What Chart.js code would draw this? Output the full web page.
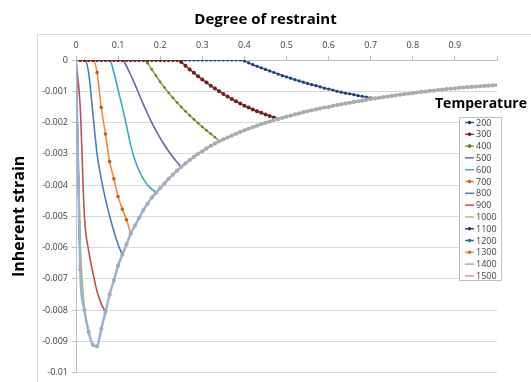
<!DOCTYPE html>
<html>
<head>
<meta charset="utf-8">
<script src="https://cdn.jsdelivr.net/npm/chart.js@4.4.1/dist/chart.umd.min.js"></script>
<style>
  html, body { margin: 0; padding: 0; background: #fff; }
  #wrap { position: relative; width: 531px; height: 382px; }
</style>
</head>
<body>
<div id="wrap"><canvas id="chart"></canvas></div>
<script>
// degree of restraint (x), one value per 0.01
const restraint = [
  0.00, 0.01, 0.02, 0.03, 0.04, 0.05, 0.06, 0.07, 0.08, 0.09,
  0.10, 0.11, 0.12, 0.13, 0.14, 0.15, 0.16, 0.17, 0.18, 0.19,
  0.20, 0.21, 0.22, 0.23, 0.24, 0.25, 0.26, 0.27, 0.28, 0.29,
  0.30, 0.31, 0.32, 0.33, 0.34, 0.35, 0.36, 0.37, 0.38, 0.39,
  0.40, 0.41, 0.42, 0.43, 0.44, 0.45, 0.46, 0.47, 0.48, 0.49,
  0.50, 0.51, 0.52, 0.53, 0.54, 0.55, 0.56, 0.57, 0.58, 0.59,
  0.60, 0.61, 0.62, 0.63, 0.64, 0.65, 0.66, 0.67, 0.68, 0.69,
  0.70, 0.71, 0.72, 0.73, 0.74, 0.75, 0.76, 0.77, 0.78, 0.79,
  0.80, 0.81, 0.82, 0.83, 0.84, 0.85, 0.86, 0.87, 0.88, 0.89,
  0.90, 0.91, 0.92, 0.93, 0.94, 0.95, 0.96, 0.97, 0.98, 0.99,
  1.00
]

const temperatures = ['200', '300', '400', '500', '600', '700', '800', '900', '1000', '1100', '1200', '1300', '1400', '1500']

// inherent strain per temperature (index = restraint index)
const s200 = [
  0, 0, 0, 0, 0, 0, 0, 0, 0, 0,
  0, 0, 0, 0, 0, 0, 0, 0, 0, 0,
  0, 0, 0, 0, 0, 0, 0, 0, 0, 0,
  0, 0, 0, 0, 0, 0, 0, 0, 0, 0,
  -0.00003, -0.00009, -0.00015, -0.0002, -0.00025, -0.0003, -0.00035, -0.0004, -0.00045, -0.0005,
  -0.00054, -0.00058, -0.00063, -0.00067, -0.00071, -0.00075, -0.00079, -0.00082, -0.00086, -0.0009,
  -0.00093, -0.00096, -0.001, -0.00103, -0.00106, -0.00108, -0.00111, -0.00114, -0.00116, -0.00119,
  -0.00121, -0.00123
]
const s300 = [
  0, 0, 0, 0, 0, 0, 0, 0, 0, 0,
  0, 0, 0, 0, 0, 0, 0, 0, 0, 0,
  0, 0, 0, 0, 0, -0.00006, -0.00018, -0.0003, -0.00041, -0.00052,
  -0.00062, -0.00072, -0.00082, -0.00091, -0.001, -0.00109, -0.00117, -0.00125, -0.00132, -0.00139,
  -0.00146, -0.00152, -0.00158, -0.00164, -0.00169, -0.00174, -0.00179, -0.00184, -0.00188
]
const s400 = [
  0, 0, 0, 0, 0, 0, 0, 0, 0, 0,
  0, 0, 0, 0, 0, 0, 0, -0.0001, -0.0003, -0.0005,
  -0.0007, -0.00088, -0.00105, -0.00121, -0.00136, -0.0015, -0.00164, -0.00177, -0.0019, -0.00202,
  -0.00214, -0.00225, -0.00236, -0.00247, -0.0026
]
const s500 = [
  0, 0, 0, 0, 0, 0, 0, 0, 0, 0,
  0, 0, -0.0002, -0.00048, -0.00078, -0.0011, -0.00142, -0.00172, -0.002, -0.00226,
  -0.0025, -0.00272, -0.00292, -0.0031, -0.00327, -0.00342
]
const s600 = [
  0, 0, 0, 0, 0, 0, 0, 0, 0, -0.0004,
  -0.00096, -0.0015, -0.0021, -0.00273, -0.0032, -0.00355, -0.0038, -0.004, -0.00413, -0.00425
]
const s700 = [
  0, 0, 0, 0, 0, -0.0004, -0.00152, -0.00237, -0.00325, -0.0038,
  -0.00437, -0.00477, -0.00511, -0.00556
]
const s800 = [
  0, 0, 0, -0.0004, -0.0017, -0.003, -0.0038, -0.00445, -0.005, -0.00548,
  -0.0059, -0.00623
]
const s900 = [0, -0.0015, -0.005, -0.0061, -0.0068, -0.0074, -0.0078, -0.00806]
const s1000 = [0, -0.0058, -0.0079, -0.0087]
const s1100 = [0, -0.0066]
const s1200 = [0, -0.0067]
const s1300 = [0, -0.0067]
// 1400 runs along the whole lower envelope
const s1400 = [
  0, -0.0067, -0.008, -0.0087, -0.00911, -0.00916, -0.0086, -0.00806, -0.0075, -0.00705,
  -0.00658, -0.00623, -0.0059, -0.00556, -0.0053, -0.00505, -0.0048, -0.0046, -0.0044, -0.00425,
  -0.0041, -0.00395, -0.0038, -0.00367, -0.00354, -0.00342, -0.00331, -0.0032, -0.0031, -0.003,
  -0.00292, -0.00283, -0.00275, -0.00267, -0.0026, -0.00254, -0.00248, -0.00242, -0.00236, -0.0023,
  -0.00225, -0.0022, -0.00215, -0.0021, -0.00205, -0.00201, -0.00197, -0.00192, -0.00188, -0.00185,
  -0.00181, -0.00178, -0.00174, -0.00171, -0.00167, -0.00164, -0.00161, -0.00158, -0.00155, -0.00152,
  -0.0015, -0.00147, -0.00144, -0.00142, -0.00139, -0.00137, -0.00134, -0.00132, -0.0013, -0.00127,
  -0.00125, -0.00123, -0.00121, -0.00119, -0.00117, -0.00115, -0.00113, -0.00111, -0.00109, -0.00108,
  -0.00106, -0.00104, -0.00102, -0.00101, -0.00099, -0.00098, -0.00096, -0.00095, -0.00093, -0.00092,
  -0.00091, -0.00089, -0.00088, -0.00087, -0.00086, -0.00085, -0.00084, -0.00083, -0.00082, -0.00081,
  -0.0008
]
const s1500 = [0, -0.0067]

const seriesValues = [s200, s300, s400, s500, s600, s700, s800, s900, s1000, s1100, s1200, s1300, s1400, s1500]

const lineColors = ['#3F6DAA', '#A8403C', '#8AAE47', '#7560A0', '#3BA7C0', '#F38B3C', '#4A7EC0', '#C0504D', '#A8C46E', '#3F3173', '#1F7A8C', '#F79646', '#95B3D7', '#D99694']
const markerColors = ['#22406E', '#6E1E1C', '#5F7D2A', null, null, '#C0602A', null, null, null, '#3F3173', '#1F7A8C', '#E46C0A', '#ABABAB', null]
const markerSizes = [1.6, 2.0, 1.3, 0, 0, 1.8, 0, 0, 0, 1.5, 1.5, 1.5, 2.1, 0]

function toPoints(values) {
  return values.map((v, i) => ({ x: restraint[i], y: v }))
}

function drawOrder(i) {
  if (temperatures[i] === '1400') return 0
  if (temperatures[i] === '300') return 1
  if (temperatures[i] === '200') return 2
  return 3
}

const datasets = temperatures.map((t, i) => ({
  label: t,
  data: toPoints(seriesValues[i]),
  borderColor: lineColors[i],
  borderWidth: t === '1400' ? 2.5 : 1.6,
  pointRadius: markerSizes[i],
  pointBackgroundColor: markerColors[i] || lineColors[i],
  pointBorderWidth: 0,
  cubicInterpolationMode: 'monotone',
  order: drawOrder(i)
}))

// plot frame + the boxed "Temperature" legend that sits over the plot
const overlay = {
  id: 'overlay',
  beforeDraw(chart) {
    const ctx = chart.ctx
    ctx.save()
    ctx.fillStyle = '#fff'
    ctx.fillRect(0, 0, chart.width, chart.height)
    ctx.strokeStyle = '#D9D9D9'
    ctx.lineWidth = 1
    ctx.strokeRect(37.5, 34.5, 600, 400)
    ctx.restore()
  },
  afterDraw(chart) {
    const ctx = chart.ctx
    ctx.save()
    ctx.font = 'bold 14px "Open Sans", sans-serif'
    ctx.fillStyle = '#000'
    ctx.textAlign = 'center'
    ctx.textBaseline = 'middle'
    ctx.fillText('Temperature', 481, 104)

    ctx.fillStyle = '#fff'
    ctx.fillRect(459.5, 117.5, 42, 163)
    ctx.strokeStyle = '#BFBFBF'
    ctx.lineWidth = 1
    ctx.strokeRect(459.5, 117.5, 42, 163)

    ctx.font = '9px "Open Sans", sans-serif'
    ctx.textAlign = 'left'
    chart.data.datasets.forEach((ds, i) => {
      const y = 122.5 + i * 11.8
      ctx.strokeStyle = ds.borderColor
      ctx.lineWidth = 1.5
      ctx.beginPath()
      ctx.moveTo(465, y)
      ctx.lineTo(474, y)
      ctx.stroke()
      if (markerSizes[i] > 0 && temperatures[i] !== '1400') {
        ctx.fillStyle = ds.pointBackgroundColor
        ctx.beginPath()
        ctx.arc(469.5, y, 1.8, 0, Math.PI * 2)
        ctx.fill()
      }
      ctx.fillStyle = '#404040'
      ctx.fillText(ds.label, 476, y + 0.5)
    })
    ctx.restore()
  }
}

new Chart(document.getElementById('chart'), {
  type: 'line',
  data: { datasets },
  plugins: [overlay],
  options: {
    responsive: true,
    maintainAspectRatio: false,
    animation: false,
    layout: { padding: { left: 0, right: 0, top: 0, bottom: 4 } },
    plugins: {
      legend: { display: false },
      tooltip: { enabled: false },
      title: {
        display: true,
        text: 'Degree of restraint',
        color: '#000',
        font: { family: '"Open Sans", sans-serif', size: 15, weight: 'bold' },
        padding: { top: 11, bottom: 5 }
      }
    },
    scales: {
      x: {
        type: 'linear',
        position: 'top',
        min: 0,
        max: 1,
        ticks: {
          stepSize: 0.1,
          color: '#404040',
          font: { family: '"Open Sans", sans-serif', size: 9 },
          padding: 5,
          maxRotation: 0,
          callback: (v) => (v >= 0.999 ? '' : String(Math.round(v * 10) / 10))
        },
        grid: { drawOnChartArea: false, tickLength: 4, color: '#BFBFBF' },
        border: { color: '#BFBFBF' },
        afterFit: (s) => { s.height = 26 }
      },
      y: {
        type: 'linear',
        min: -0.01,
        max: 0,
        ticks: {
          stepSize: 0.001,
          color: '#404040',
          font: { family: '"Open Sans", sans-serif', size: 9 },
          padding: 4,
          callback: (v) => (Math.abs(v) < 1e-9 ? '0' : String(parseFloat(v.toFixed(3))))
        },
        grid: { color: '#D9D9D9', tickLength: 4, tickColor: '#BFBFBF' },
        border: { color: '#BFBFBF' },
        title: {
          display: true,
          text: 'Inherent strain',
          color: '#000',
          font: { family: '"Open Sans", sans-serif', size: 16, weight: 'bold' },
          padding: { top: 10, bottom: 0 }
        },
        afterFit: (s) => { s.width = 76 }
      },
      spacer: {
        type: 'linear',
        position: 'right',
        display: true,
        ticks: { display: false },
        grid: { display: false },
        border: { display: false },
        afterFit: (s) => { s.width = 34 }
      }
    }
  }
})
</script>
</body>
</html>
